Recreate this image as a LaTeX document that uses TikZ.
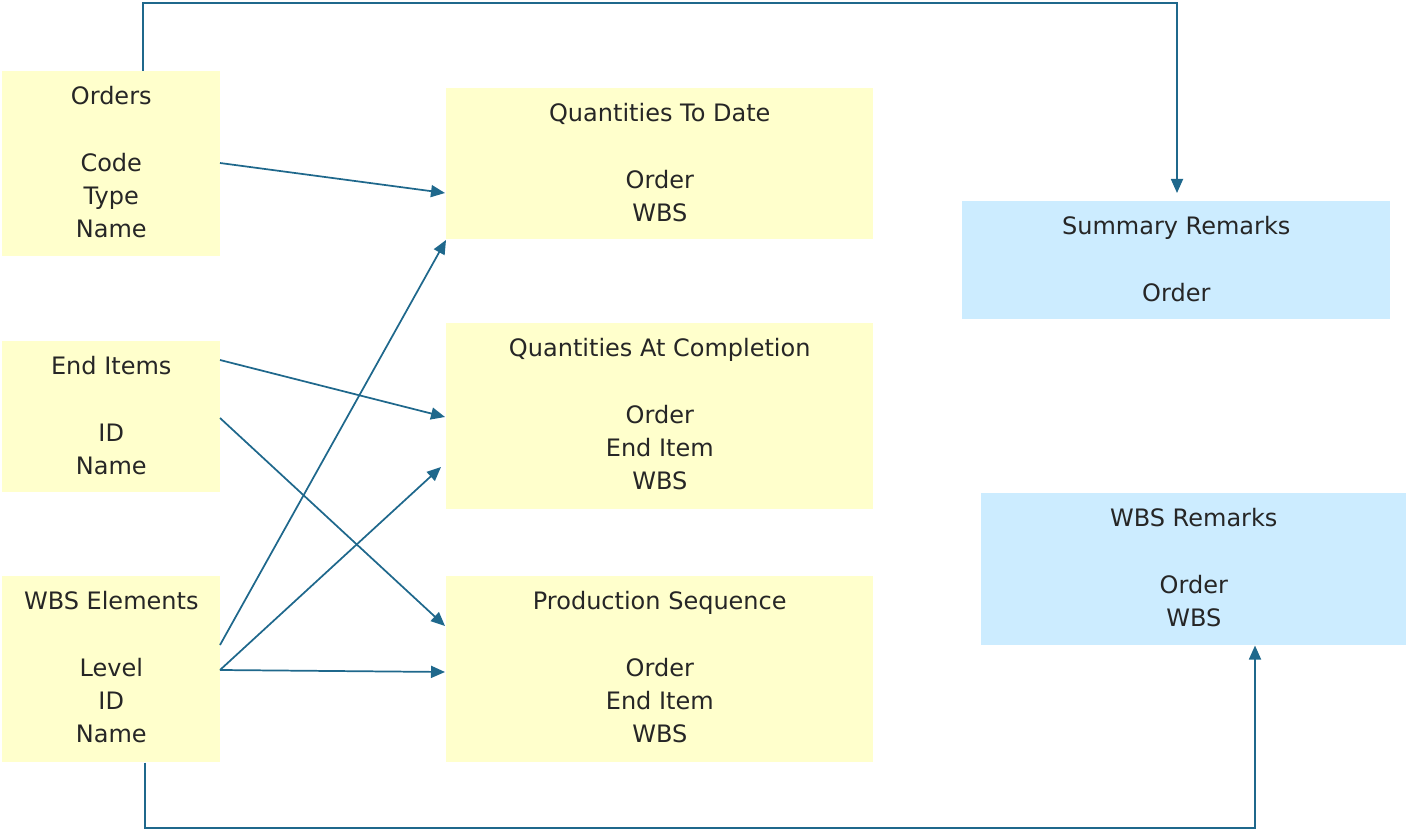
\documentclass[tikz,border=0pt]{standalone}
\usepackage{fontspec}
\setmainfont{DejaVu Sans}
\usetikzlibrary{arrows.meta,calc}
\definecolor{ln}{RGB}{31,104,140}
\definecolor{ybox}{RGB}{255,255,204}
\definecolor{bbox}{RGB}{204,236,255}
\begin{document}
\begin{tikzpicture}[x=0.75pt,y=-0.75pt,
  ent/.style={fill=ybox,draw=none,anchor=north west,inner sep=0pt,minimum width=#1},
  rem/.style={fill=bbox,draw=none,anchor=north west,inner sep=0pt,minimum width=#1},
  txt/.style={anchor=north,inner sep=0pt,align=center,font=\fontsize{18}{25}\selectfont,yshift=-11.2pt,text=black!85},
  conn/.style={draw=ln,line width=1.3pt,-{Triangle[length=10.5pt,width=9pt]}},
  plain/.style={draw=ln,line width=1.3pt}]
\useasboundingbox (0,0) rectangle (1406,831);
% entity boxes
\node[ent=163.5pt,minimum height=138.75pt] (ord) at (2,71) {};
\node[ent=163.5pt,minimum height=113.25pt] (end) at (2,341) {};
\node[ent=163.5pt,minimum height=139.5pt] (wbs) at (2,576) {};
\node[ent=320.25pt,minimum height=113.25pt] (qtd) at (446,88) {};
\node[ent=320.25pt,minimum height=139.5pt] (qac) at (446,323) {};
\node[ent=320.25pt,minimum height=139.5pt] (ps) at (446,576) {};
\node[rem=321pt,minimum height=88.5pt] (sr) at (962,201) {};
\node[rem=318.75pt,minimum height=114pt] (wr) at (981,493) {};
% texts
\node[txt] (ordt) at (ord.north) {Orders\\[25pt]Code\\Type\\Name};
\node[txt] (endt) at (end.north) {End Items\\[25pt]ID\\Name};
\node[txt] (wbst) at (wbs.north) {WBS Elements\\[25pt]Level\\ID\\Name};
\node[txt] (qtdt) at (qtd.north) {Quantities To Date\\[25pt]Order\\WBS};
\node[txt] (qact) at (qac.north) {Quantities At Completion\\[25pt]Order\\End Item\\WBS};
\node[txt] (pst) at (ps.north) {Production Sequence\\[25pt]Order\\End Item\\WBS};
\node[txt] (srt) at (sr.north) {Summary Remarks\\[25pt]Order};
\node[txt] (wrt) at (wr.north) {WBS Remarks\\[25pt]Order\\WBS};
% connectors
\coordinate (o1) at (220,163); \coordinate (q1) at (445,193);
\draw[conn] (o1) -- (q1);
\coordinate (w1) at (220,645); \coordinate (q2) at (446,240);
\draw[conn] (w1) -- (q2);
\coordinate (e1) at (220,360); \coordinate (c1) at (445,417);
\draw[conn] (e1) -- (c1);
\coordinate (e2) at (220,418); \coordinate (p1) at (445,626);
\draw[conn] (e2) -- (p1);
\coordinate (w2) at (220,670); \coordinate (c2) at (441,467);
\draw[conn] (w2) -- (c2);
\coordinate (p2) at (445,672);
\draw[conn] (w2) -- (p2);
% routed connectors
\draw[conn] (ord.north west -| 143,0) -- (143,3) -- (1177,3) -- (1177,193);
\draw[conn] (wbs.south west -| 145,0) -- (145,828) -- (1255,828) -- (wr.south -| 1255,0);
\end{tikzpicture}
\end{document}
